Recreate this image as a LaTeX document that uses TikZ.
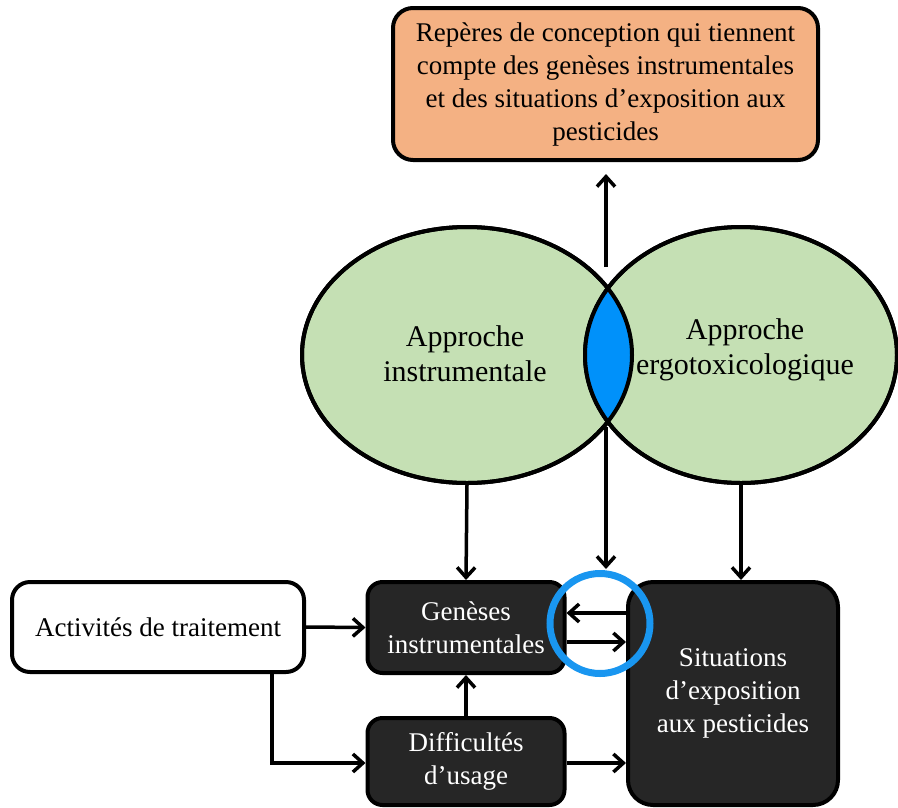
\documentclass[tikz,border=0pt]{standalone}
\usepackage{fontspec}
\setmainfont{Liberation Serif}
\usetikzlibrary{arrows.meta,shapes.geometric}
\definecolor{peach}{RGB}{244,177,131}
\definecolor{lgreen}{RGB}{197,224,180}
\definecolor{lensblue}{RGB}{0,145,250}
\definecolor{ringblue}{RGB}{25,150,240}
\definecolor{darkbox}{RGB}{38,38,38}
\tikzset{
  every picture/.style={x=1pt,y=-1pt},
  txt/.style={font=\fontsize{27}{33}\selectfont, align=center, inner sep=0pt},
  boxw/.style={txt, draw=black, line width=4pt, fill=white, rounded corners=18pt},
  boxd/.style={txt, draw=black, line width=4pt, fill=darkbox, text=white, rounded corners=15pt},
  ell/.style={ellipse, draw=black, line width=4pt, fill=lgreen, inner sep=0pt},
  arr/.style={line width=3.5pt, -{Straight Barb[length=10pt,width=18pt,line width=3.5pt]}},
  ln/.style={line width=3.5pt}
}
\begin{document}
\begin{tikzpicture}
\useasboundingbox (0,0) rectangle (898,807);
% top box
\node[txt, draw=black, line width=4pt, fill=peach, rounded corners=20pt,
      minimum width=425pt, minimum height=152pt] (T) at (605.5,84)
  {Repères de conception qui tiennent\\compte des genèses instrumentales\\et des situations d’exposition aux\\pesticides};
% ellipses
\node[ell, minimum width=330pt, minimum height=256pt] (L) at (467,355) {};
\node[ell, minimum width=312pt, minimum height=256pt] (R) at (741,355) {};
\begin{scope}
  \clip (467,355) ellipse [x radius=165, y radius=128];
  \fill[lensblue] (741,355) ellipse [x radius=156, y radius=128];
\end{scope}
\draw[line width=4pt] (467,355) ellipse [x radius=165, y radius=128];
\draw[line width=4pt] (741,355) ellipse [x radius=156, y radius=128];
\node[txt, font=\fontsize{30}{35}\selectfont] (Lt) at (465,354) {Approche\\instrumentale};
\node[txt, font=\fontsize{30}{35}\selectfont] (Rt) at (745,350) {Approche\\ergotoxicologique};
% bottom boxes
\node[boxw, minimum width=292pt, minimum height=90pt] (A) at (158,627) {Activités de traitement};
\node[boxd, minimum width=197pt, minimum height=91pt] (G) at (466,627.5) {Genèses\\instrumentales};
\node[boxd, minimum width=197pt, minimum height=87pt] (D) at (466,761.5) {Difficultés\\d’usage};
\node[boxd, rounded corners=25pt, minimum width=210pt, minimum height=223pt] (S) at (733,693.5) {Situations\\d’exposition\\aux pesticides};
% coordinates
\coordinate (up0) at (606,267);
\coordinate (up1) at (606,174);
\coordinate (dn0) at (606,427);
\coordinate (dn1) at (606,569);
\coordinate (bend) at (272,763);
% arrows
\draw[arr] (up0) -- (up1);
\draw[arr] (dn0) -- (dn1);
\draw[arr] (L.south) -- (G.north);
\draw[arr] (R.south) -- (R.south |- S.north);
\draw[arr] (A.east) -- (G.west);
\draw[arr] (A.south -| bend) -- (bend) -- (D.west |- bend);
\draw[arr] (D.north) -- (G.north |- G.south);
\draw[arr] (D.east |- bend) -- (S.west |- bend);
\draw[arr] (S.west |- 0,613) -- (G.east |- 0,613);
\draw[arr] (G.east |- 0,642) -- (S.west |- 0,642);
% ring
\node[circle, draw=ringblue, line width=7pt, minimum size=100pt, inner sep=0pt] (C) at (600,623.5) {};
\end{tikzpicture}
\end{document}
